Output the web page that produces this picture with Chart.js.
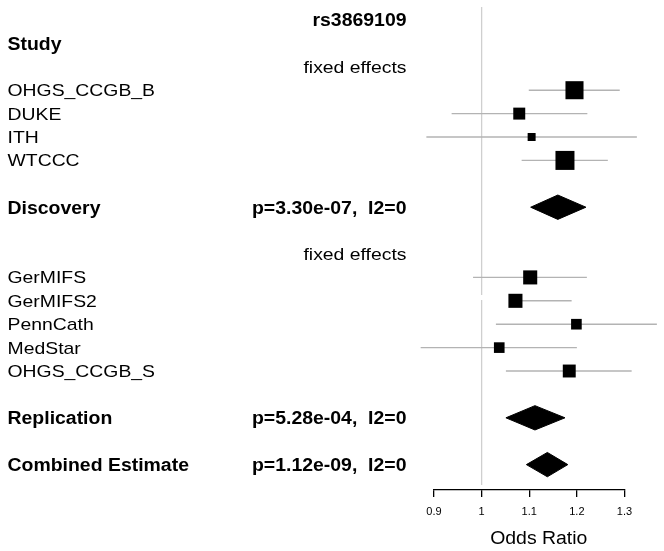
<!DOCTYPE html>
<html><head><meta charset="utf-8">
<script src="https://cdn.jsdelivr.net/npm/chart.js@4"></script>
<style>html,body{margin:0;padding:0;background:#fff}#wrap{width:664px;height:551px;position:relative}</style>
</head><body><div id="wrap"><canvas id="c"></canvas></div>
<script>
// ---- data ----
const snpTitle = 'rs3869109';
const studyHeader = 'Study';
const modelLabel = 'fixed effects';
const discoveryStudies = ['OHGS_CCGB_B', 'DUKE', 'ITH', 'WTCCC'];
const discoveryOR = [1.195, 1.079, 1.105, 1.175];
const discoveryLower = [1.099, 0.937, 0.884, 1.084];
const discoveryUpper = [1.290, 1.222, 1.326, 1.265];
const discoveryWeight = [0.95, 0.63, 0.42, 1.0];
const replicationStudies = ['GerMIFS', 'GerMIFS2', 'PennCath', 'MedStar', 'OHGS_CCGB_S'];
const replicationOR = [1.102, 1.071, 1.199, 1.037, 1.184];
const replicationLower = [0.982, 1.060, 1.030, 0.872, 1.051];
const replicationUpper = [1.221, 1.189, 1.368, 1.200, 1.315];
const replicationWeight = [0.74, 0.74, 0.56, 0.56, 0.68];
const summaryLabels = ['Discovery', 'Replication', 'Combined Estimate'];
const summaryStats = ['p=3.30e-07,  I2=0', 'p=5.28e-04,  I2=0', 'p=1.12e-09,  I2=0'];
const summaryOR = [1.160, 1.112, 1.138];
const summaryLower = [1.103, 1.051, 1.094];
const summaryUpper = [1.219, 1.175, 1.181];
const nullValue = 1;
const xTicks = [0.9, 1, 1.1, 1.2, 1.3];
const xTickLabels = ['0.9', '1', '1.1', '1.2', '1.3'];
const xTitle = 'Odds Ratio';

// ---- layout (rows) ----
const ROW_TITLE = 0, ROW_HEADER = 1, ROW_MODEL1 = 2, ROW_DISC0 = 3;
const ROW_DISC_SUM = ROW_DISC0 + discoveryStudies.length + 1;
const ROW_MODEL2 = ROW_DISC_SUM + 2;
const ROW_REP0 = ROW_MODEL2 + 1;
const ROW_REP_SUM = ROW_REP0 + replicationStudies.length + 1;
const ROW_COMB = ROW_REP_SUM + 2;
const summaryRows = [ROW_DISC_SUM, ROW_REP_SUM, ROW_COMB];

const studyRows = [], studyOR = [], studyLo = [], studyHi = [], studyW = [];
discoveryStudies.forEach((s, i) => { studyRows.push(ROW_DISC0 + i); studyOR.push(discoveryOR[i]); studyLo.push(discoveryLower[i]); studyHi.push(discoveryUpper[i]); studyW.push(discoveryWeight[i]); });
replicationStudies.forEach((s, i) => { studyRows.push(ROW_REP0 + i); studyOR.push(replicationOR[i]); studyLo.push(replicationLower[i]); studyHi.push(replicationUpper[i]); studyW.push(replicationWeight[i]); });

const BOX_MAX = 19;        // px side of largest box
const DIAMOND_HALF = 0.52; // rows
const FONT = '"Liberation Sans", Arial, Helvetica, sans-serif';

const datasets = [];
// reference line at OR = 1 (drawn in two pieces as in the original)
datasets.push({ order: 3, data: [{x: nullValue, y: -0.56}, {x: nullValue, y: ROW_REP0 + 0.75}], showLine: true, borderColor: '#cfcfcf', borderWidth: 1.3, pointRadius: 0, clip: false });
datasets.push({ order: 3, data: [{x: nullValue, y: ROW_REP0 + 0.97}, {x: nullValue, y: ROW_COMB + 0.87}], showLine: true, borderColor: '#cfcfcf', borderWidth: 1.3, pointRadius: 0, clip: false });
// CI lines
studyRows.forEach((r, i) => {
  datasets.push({ order: 2, data: [{x: studyLo[i], y: r}, {x: studyHi[i], y: r}], showLine: true, borderColor: '#b3b3b3', borderWidth: 1.4, pointRadius: 0, clip: false });
});
// boxes
datasets.push({
  order: 1,
  data: studyRows.map((r, i) => ({x: studyOR[i], y: r})),
  pointStyle: 'rect',
  pointRadius: studyW.map(w => w * BOX_MAX / Math.SQRT2),
  backgroundColor: '#000', borderWidth: 0, clip: false
});
// diamonds
summaryRows.forEach((r, i) => {
  datasets.push({
    order: 1,
    data: [{x: summaryLower[i], y: r}, {x: summaryOR[i], y: r - DIAMOND_HALF}, {x: summaryUpper[i], y: r}, {x: summaryOR[i], y: r + DIAMOND_HALF}, {x: summaryLower[i], y: r}],
    showLine: true, fill: 'shape', backgroundColor: '#000', borderColor: '#000', borderWidth: 1, pointRadius: 0, tension: 0, clip: false
  });
});

function drawText(ctx, txt, x, y, bold, align) {
  const size = bold ? 18 : 17, stretch = bold ? 1.08 : 1.14;
  ctx.save();
  ctx.font = (bold ? 'bold ' : '') + size + 'px ' + FONT;
  ctx.textAlign = align; ctx.textBaseline = 'alphabetic'; ctx.fillStyle = '#000';
  ctx.translate(x, y + size * 0.716 / 2);
  ctx.scale(stretch, 1);
  ctx.fillText(txt, 0, 0);
  ctx.restore();
}

const textPlugin = {
  id: 'forestText',
  afterDraw(chart) {
    const ctx = chart.ctx, ys = chart.scales.y, xs = chart.scales.x;
    const L = 7.5, R = 406.5;
    const ry = r => ys.getPixelForValue(r);
    drawText(ctx, snpTitle, R, ry(ROW_TITLE), true, 'right');
    drawText(ctx, studyHeader, L, ry(ROW_HEADER), true, 'left');
    drawText(ctx, modelLabel, R, ry(ROW_MODEL1), false, 'right');
    drawText(ctx, modelLabel, R, ry(ROW_MODEL2), false, 'right');
    const names = discoveryStudies.concat(replicationStudies);
    studyRows.forEach((r, i) => drawText(ctx, names[i], L, ry(r), false, 'left'));
    summaryRows.forEach((r, i) => {
      drawText(ctx, summaryLabels[i], L, ry(r), true, 'left');
      drawText(ctx, summaryStats[i], R, ry(r), true, 'right');
    });
    const lo = Math.min(...studyLo, ...summaryLower), hi = Math.max(...studyHi, ...summaryUpper);
    const cx = (xs.getPixelForValue(lo) + xs.getPixelForValue(hi)) / 2;
    ctx.save();
    ctx.font = '18px ' + FONT; ctx.textAlign = 'center'; ctx.fillStyle = '#000';
    ctx.translate(cx, 543.5); ctx.scale(1.08, 1); ctx.fillText(xTitle, 0, 0);
    ctx.restore();
  }
};

new Chart(document.getElementById('c'), {
  type: 'scatter',
  data: { datasets },
  options: {
    responsive: true, maintainAspectRatio: false, animation: false, devicePixelRatio: 1,
    layout: { autoPadding: false, padding: { left: 434, right: 39.5, top: 7, bottom: 0 } },
    plugins: { legend: { display: false }, tooltip: { enabled: false } },
    scales: {
      x: {
        type: 'linear', min: xTicks[0], max: xTicks[xTicks.length - 1], position: 'bottom',
        afterBuildTicks: s => { s.ticks = xTicks.map(v => ({ value: v })); },
        afterFit: s => { s.height = 61; },
        ticks: { callback: (v, i) => xTickLabels[i], color: '#000', font: { family: FONT, size: 11 }, padding: 8, maxRotation: 0, autoSkip: false },
        grid: { drawOnChartArea: false, drawTicks: true, tickLength: 7, color: '#000', lineWidth: 1.3 },
        border: { display: true, color: '#000', width: 1.3 }
      },
      y: { type: 'linear', reverse: true, min: -0.556, max: 20.085, display: false }
    }
  },
  plugins: [textPlugin]
});
</script>
</body></html>
